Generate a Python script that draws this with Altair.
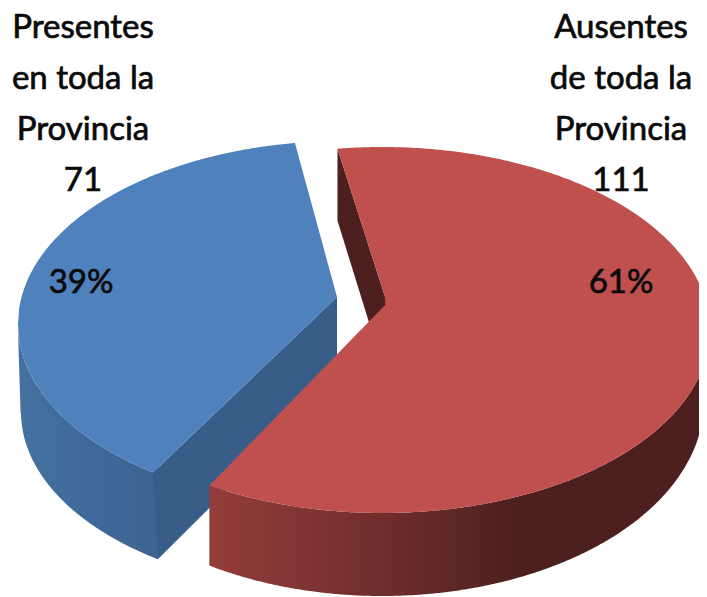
import math
import numpy as np
import pandas as pd
import altair as alt

# ---- chart values ----
categories = ["Presentes en toda la Provincia", "Ausentes de toda la Provincia"]
counts = [71, 111]
percent_labels = ["39%", "61%"]
left_lines = ["Presentes", "en toda la", "Provincia", "71"]
right_lines = ["Ausentes", "de toda la", "Provincia", "111"]

BLUE, RED = "#4f81bd", "#c0504d"
BLUE_CUT, RED_CUT = "#375d88", "#4d201f"

total = sum(counts)
START = -7.8                       # angle of the slice boundary, clockwise from 12 o'clock
red_end = START + 360 * counts[1] / total
blue_end = START - 360 * counts[0] / total + 4.0   # foreshortening of the tilted disc
blue_start = START - 0.7


class Disc:
    def __init__(s, cx, cy, rx, ry):
        s.cx, s.cy, s.rx, s.ry = cx, cy, rx, ry

    def at(s, deg):
        t = math.radians(deg)
        return s.cx + s.rx * math.sin(t), s.cy - s.ry * math.cos(t)

    def _h(s, x):
        u = np.clip((np.asarray(x, float) - s.cx) / s.rx, -1, 1)
        return s.ry * np.sqrt(1 - u * u)

    def top(s, x):
        return s.cy - s._h(x)

    def bottom(s, x):
        return s.cy + s._h(x)


def line(p, q, x):
    return p[1] + (q[1] - p[1]) * (np.asarray(x, float) - p[0]) / (q[0] - p[0])


def grid(a, b, *breaks):
    xs = list(np.linspace(a, b, 260)) + [c for c in breaks if a <= c <= b]
    return np.array(sorted(set(xs)))


X = alt.X("x:Q", axis=None, scale=alt.Scale(domain=[8, 699], nice=False, zero=False))
Y = alt.Y("y:Q", axis=None, scale=alt.Scale(domain=[597, 8], nice=False, zero=False))
Y2 = alt.Y2("y2:Q")


def area(x, y, y2, fill):
    df = pd.DataFrame({"x": x, "y": y, "y2": y2})
    return alt.Chart(df).mark_area(color=fill, clip=True, interpolate="linear",
                                   line=False).encode(x=X, y=Y, y2=Y2)


def hgrad(stops):
    return alt.Gradient(gradient="linear", x1=0, x2=1, y1=0, y2=0,
                        stops=[alt.GradientStop(offset=o, color=c) for o, c in stops])


# ---- blue slice ----
bt = Disc(343, 324, 325, 183)
bb = Disc(343, 412, 322, 180)
b_apex = (337, 297)
b_s = bt.at(blue_start)
b_e = bt.at(blue_end)
b_e_low = (b_e[0] + 5, 559)
b_cut_low = (337, 381)

x = grid(bt.cx - bt.rx, b_e_low[0], b_e[0], bb.cx - bb.rx)
up = np.where(x <= b_e[0], bt.bottom(x), line(b_e, b_apex, x))
lo = np.where(x >= bb.cx - bb.rx, bb.bottom(x), bt.bottom(x) + (x - 18) * 25)
blue_wall = area(x, up, np.maximum(lo, up), hgrad([(0, "#44719f"), (0.5, "#3f6a9b"), (1, "#3e6391")]))

x = grid(b_e[0], b_apex[0], b_e_low[0])
up = line(b_e, b_apex, x)
lo = np.where(x <= b_e_low[0], line(b_e, b_e_low, x), line(b_e_low, b_cut_low, x))
blue_cut = area(x, up, lo, BLUE_CUT)

x = grid(bt.cx - bt.rx, b_apex[0], b_s[0], b_e[0])
up = np.where(x <= b_s[0], bt.top(x), line(b_s, b_apex, x))
lo = np.where(x <= b_e[0], bt.bottom(x), line(b_e, b_apex, x))
blue_top = area(x, up, lo, BLUE)

# ---- red slice ----
rt = Disc(382, 330, 328, 183)
rb = Disc(382, 401, 322, 195)
r_apex = (387, 303)
r_s = rt.at(START)
r_e = rt.at(red_end)
r_cut_low = (r_s[0] + 31, r_s[1] + 172)

x = grid(r_s[0], r_apex[0])
red_cut = area(x, line(r_s, r_apex, x), line((r_s[0], r_s[1] + 72), r_cut_low, x), RED_CUT)

x = grid(r_e[0], 710, rb.cx + rb.rx)
up = rt.bottom(x)
edge = rb.cx + rb.rx
lo = np.where(x <= edge, rb.bottom(x), line((edge, float(rb.bottom(edge))), (710, float(rt.bottom(710))), x))
red_wall = area(x, up, lo, hgrad([(0, "#933d3a"), (0.35, "#6f2d2b"), (0.62, "#4d201f"), (1, "#4d201f")]))

x = grid(r_s[0], r_apex[0] + 1, r_apex[0])
up = rt.top(x)
lo = np.where(x <= r_apex[0], line(r_s, r_apex, x), rt.bottom(x))
red_top_a = area(x, up, lo, RED)

x = grid(r_e[0], 710, r_apex[0])
up = np.where(x < r_apex[0], line(r_e, r_apex, x), rt.top(x))
red_top_b = area(x, up, rt.bottom(x), RED)

# ---- texts ----
baselines = [38, 89, 140, 191]
text_rows = (
    [{"x": 83, "y": b, "t": t} for b, t in zip(baselines, left_lines)]
    + [{"x": 621, "y": b, "t": t} for b, t in zip(baselines, right_lines)]
    + [{"x": 81, "y": 293, "t": percent_labels[0]}, {"x": 621, "y": 293, "t": percent_labels[1]}]
)
labels = alt.Chart(pd.DataFrame(text_rows)).mark_text(
    font="Lato", fontSize=33, color="#0a0a0a", stroke="#0a0a0a", strokeWidth=0.7,
    align="center", baseline="alphabetic"
).encode(x=X, y=Y, text="t:N")

chart = alt.layer(
    blue_wall, blue_cut, blue_top, red_cut, red_wall, red_top_a, red_top_b, labels
).properties(
    width=691, height=589, padding=0, autosize=alt.AutoSizeParams(type="none"), background="white"
).configure_view(stroke=None)

chart.save("out.html", embed_options={"renderer": "svg", "actions": False})
